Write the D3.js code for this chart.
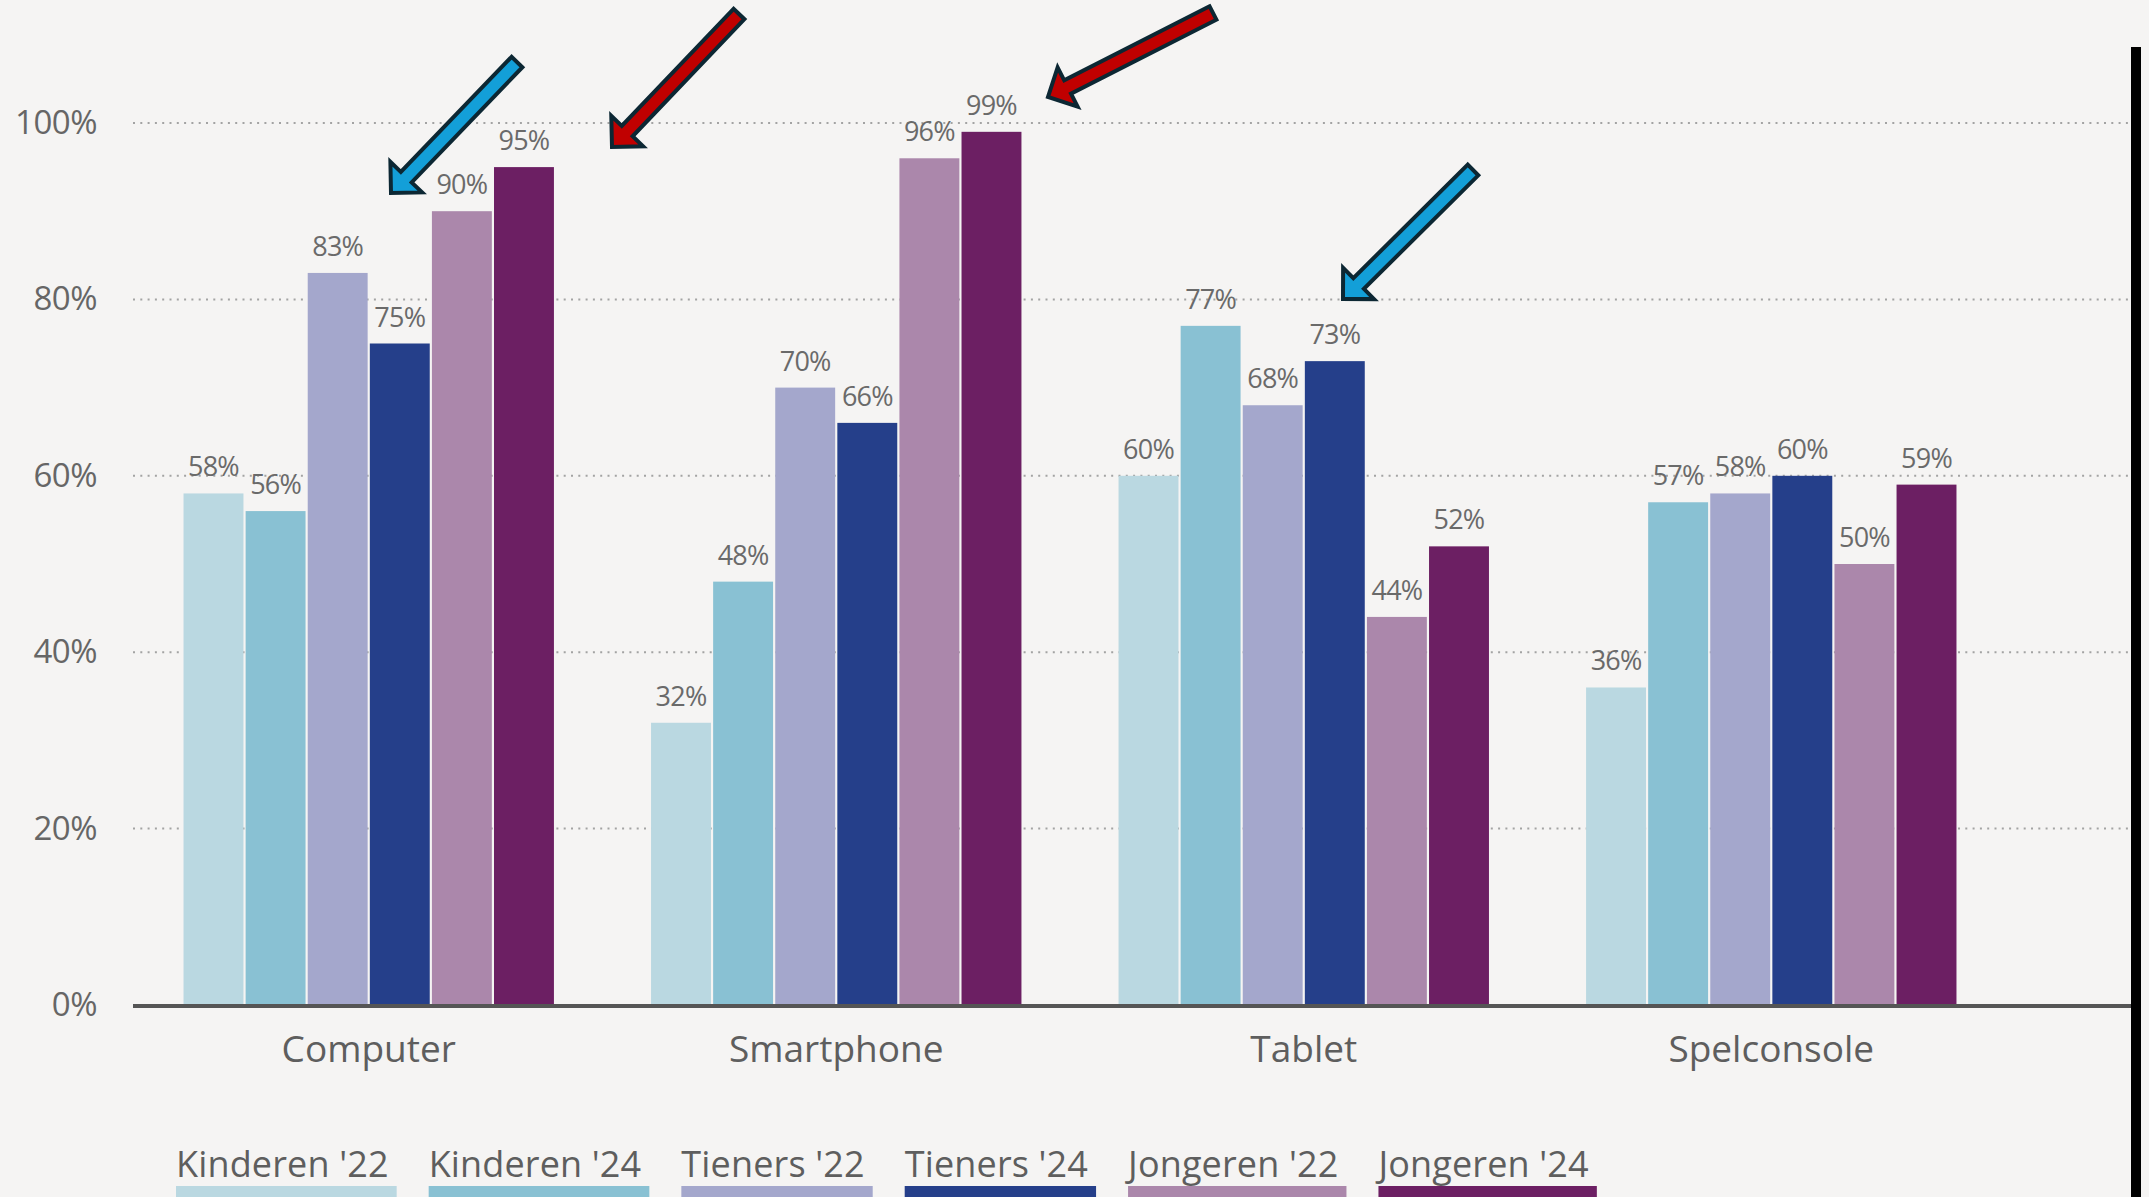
<!DOCTYPE html>
<html>
<head>
<meta charset="utf-8">
<script src="https://cdn.jsdelivr.net/npm/d3@7/dist/d3.min.js"></script>
<style>
  html, body { margin: 0; padding: 0; background: #f5f4f3; }
  svg { display: block; }
</style>
</head>
<body>
<svg id="chart" width="2149" height="1197"></svg>
<script>
// ---- data ----
const categories = ["Computer", "Smartphone", "Tablet", "Spelconsole"];
const seriesNames = ["Kinderen '22", "Kinderen '24", "Tieners '22", "Tieners '24", "Jongeren '22", "Jongeren '24"];
const kinderen22 = [58, 32, 60, 36];
const kinderen24 = [56, 48, 77, 57];
const tieners22  = [83, 70, 68, 58];
const tieners24  = [75, 66, 73, 60];
const jongeren22 = [90, 96, 44, 50];
const jongeren24 = [95, 99, 52, 59];
const yTickValues = [0, 20, 40, 60, 80, 100];
const seriesColors = ["#bad8e1", "#89c1d3", "#a4a7cc", "#253f8a", "#ab87ab", "#6c1f63"];

// annotation arrows (pixel annotations, not data)
const arrows = [
  { tip: [391, 193], tail: [517, 62],  fill: "#139fd8" },
  { tip: [612, 147], tail: [739, 14],  fill: "#c00000" },
  { tip: [1048, 97], tail: [1213, 13], fill: "#c00000" },
  { tip: [1343, 299], tail: [1473, 170], fill: "#139fd8" }
];

const seriesValues = [kinderen22, kinderen24, tieners22, tieners24, jongeren22, jongeren24];
const rows = categories.map((c, i) => ({
  category: c,
  values: seriesNames.map((s, j) => ({ series: s, value: seriesValues[j][i], color: seriesColors[j] }))
}));

const svg = d3.select("#chart");
const FONT = "'Open Sans', 'Noto Sans', sans-serif";
const W = 2149, H = 1197;
const plotLeft = 133, plotRight = 2132;

svg.append("rect").attr("width", W).attr("height", H).attr("fill", "#f5f4f3");

const x0 = d3.scaleBand().domain(categories).range([135, 2005]).paddingInner(0.2077).paddingOuter(0.1038);
const x1 = d3.scaleBand().domain(seriesNames).range([0, x0.bandwidth()]).paddingInner(0.035);
const y = d3.scaleLinear().domain([0, 100]).range([1005, 123]);

// gridlines
svg.append("g").selectAll("line")
  .data(yTickValues.filter(d => d > 0))
  .join("line")
  .attr("x1", plotLeft).attr("x2", plotRight)
  .attr("y1", d => y(d)).attr("y2", d => y(d))
  .attr("stroke", "#a3a3a3").attr("stroke-width", 2)
  .attr("stroke-dasharray", "2 5.3");

// y axis
const yAxis = svg.append("g").attr("transform", `translate(${plotLeft},0)`)
  .call(d3.axisLeft(y).tickValues(yTickValues).tickFormat(d => d + "%").tickSize(0).tickPadding(36));
yAxis.select(".domain").remove();
yAxis.selectAll("text").attr("font-family", FONT).attr("font-size", 33).attr("fill", "#666")
  .attr("letter-spacing", "-0.5");

// bars
const groups = svg.append("g").selectAll("g")
  .data(rows).join("g")
  .attr("transform", d => `translate(${x0(d.category)},0)`);

groups.selectAll("rect")
  .data(d => d.values).join("rect")
  .attr("x", d => x1(d.series))
  .attr("width", x1.bandwidth())
  .attr("y", d => y(d.value))
  .attr("height", d => y(0) - y(d.value))
  .attr("fill", d => d.color);

groups.selectAll("text")
  .data(d => d.values).join("text")
  .attr("x", d => x1(d.series) + x1.bandwidth() / 2)
  .attr("y", d => y(d.value) - 17)
  .attr("text-anchor", "middle")
  .attr("font-family", FONT).attr("font-size", 27).attr("fill", "#6a6a6a")
  .attr("letter-spacing", "-0.8")
  .text(d => d.value + "%");

// x axis
const xAxis = svg.append("g").attr("transform", `translate(0,${y(0)})`)
  .call(d3.axisBottom(x0).tickSize(0).tickPadding(31));
xAxis.select(".domain").remove();
xAxis.selectAll("text").attr("font-family", FONT).attr("font-size", 37).attr("fill", "#5e5e5e");

// baseline
svg.append("line")
  .attr("x1", plotLeft).attr("x2", plotRight)
  .attr("y1", y(0) + 1).attr("y2", y(0) + 1)
  .attr("stroke", "#555").attr("stroke-width", 4);

// legend
const legend = svg.append("g");
let lx = 176;
seriesNames.forEach((s, i) => {
  const t = legend.append("text")
    .attr("x", lx).attr("y", 1177)
    .attr("font-family", FONT).attr("font-size", 36).attr("fill", "#5e5e5e")
    .attr("letter-spacing", "0.15")
    .text(s);
  const tw = t.node().getComputedTextLength();
  legend.append("rect")
    .attr("x", lx).attr("y", 1186).attr("width", tw + 8).attr("height", 12)
    .attr("fill", seriesColors[i]);
  lx += tw + 8 + 32;
});

// right border bar
svg.append("rect").attr("x", 2131).attr("y", 47).attr("width", 10).attr("height", H - 47).attr("fill", "#000");

// arrows
function arrowPath(tip, tail, sw, hl, hh) {
  const dx = tip[0] - tail[0], dy = tip[1] - tail[1];
  const len = Math.hypot(dx, dy);
  const ux = dx / len, uy = dy / len;
  const px = -uy, py = ux;
  const bx = tip[0] - ux * hl, by = tip[1] - uy * hl;
  const pts = [
    [tail[0] + px * sw / 2, tail[1] + py * sw / 2],
    [bx + px * sw / 2, by + py * sw / 2],
    [bx + px * hh, by + py * hh],
    tip,
    [bx - px * hh, by - py * hh],
    [bx - px * sw / 2, by - py * sw / 2],
    [tail[0] - px * sw / 2, tail[1] - py * sw / 2]
  ];
  return "M" + pts.map(p => p.join(",")).join("L") + "Z";
}
svg.append("g").selectAll("path")
  .data(arrows).join("path")
  .attr("d", d => arrowPath(d.tip, d.tail, 15, 22, 22))
  .attr("fill", d => d.fill)
  .attr("stroke", "#0c2733").attr("stroke-width", 4).attr("stroke-linejoin", "miter");
</script>
</body>
</html>
